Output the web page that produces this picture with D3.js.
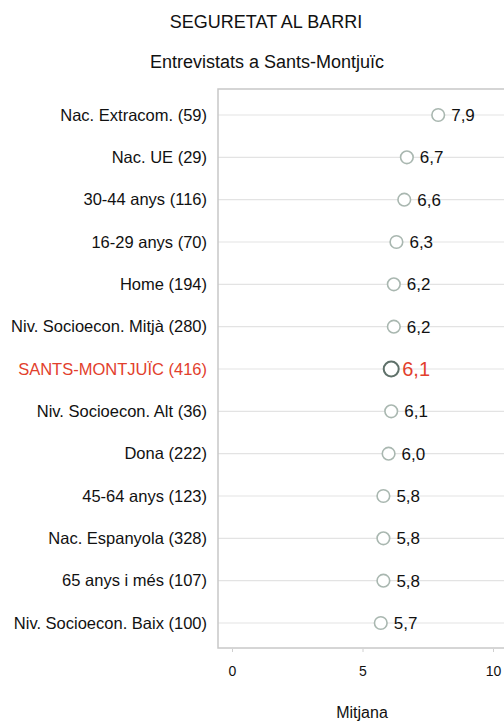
<!DOCTYPE html>
<html lang="ca">
<head>
  <meta charset="UTF-8">
  <title>Seguretat al barri</title>
  <script src="https://d3js.org/d3.v7.min.js"></script>
  <style>
    body { margin: 0; background: #fff; font-family: 'Liberation Sans', Arial, sans-serif; }
    svg { display: block; }
  </style>
</head>
<body>
<div id="chart"></div>
<script>
  // data
  const groups = ["Nac. Extracom. (59)", "Nac. UE (29)", "30-44 anys (116)", "16-29 anys (70)",
    "Home (194)", "Niv. Socioecon. Mitjà (280)", "SANTS-MONTJUÏC (416)", "Niv. Socioecon. Alt (36)",
    "Dona (222)", "45-64 anys (123)", "Nac. Espanyola (328)", "65 anys i més (107)", "Niv. Socioecon. Baix (100)"];
  const means = [7.9, 6.7, 6.6, 6.3, 6.2, 6.2, 6.1, 6.1, 6.0, 5.8, 5.8, 5.8, 5.7];
  const xTicks = [0, 5, 10];
  const highlight = "SANTS-MONTJUÏC (416)";

  const width = 504, height = 721;
  const panel = { left: 218, top: 89, right: 520, bottom: 648 };

  const svg = d3.select("#chart").append("svg")
    .attr("width", width)
    .attr("height", height);

  const x = d3.scaleLinear().domain([0, 10]).range([232, 493]);
  const y = d3.scalePoint().domain(groups).range([115, 623]);

  svg.append("text")
    .attr("x", 266).attr("y", 28)
    .attr("text-anchor", "middle")
    .attr("font-size", 18)
    .attr("fill", "#111")
    .text("SEGURETAT AL BARRI");

  svg.append("text")
    .attr("x", 267).attr("y", 68)
    .attr("text-anchor", "middle")
    .attr("font-size", 18)
    .attr("fill", "#111")
    .text("Entrevistats a Sants-Montjuïc");

  // grid lines
  svg.append("g").selectAll("line")
    .data(groups)
    .join("line")
    .attr("x1", panel.left).attr("x2", panel.right)
    .attr("y1", d => y(d)).attr("y2", d => y(d))
    .attr("stroke", "#e3e3e3")
    .attr("stroke-width", 1.2);

  // panel border
  svg.append("rect")
    .attr("x", panel.left).attr("y", panel.top)
    .attr("width", panel.right - panel.left)
    .attr("height", panel.bottom - panel.top)
    .attr("fill", "none")
    .attr("stroke", "#c8c8c8")
    .attr("stroke-width", 1.5);

  // y labels
  svg.append("g").selectAll("text")
    .data(groups)
    .join("text")
    .attr("x", 207)
    .attr("y", d => y(d))
    .attr("dy", "0.35em")
    .attr("text-anchor", "end")
    .attr("font-size", 16.5)
    .attr("fill", d => d === highlight ? "#e2402c" : "#111")
    .text(d => d);

  // x axis
  const xAxis = svg.append("g")
    .attr("transform", `translate(0,${panel.bottom + 1})`)
    .call(d3.axisBottom(x).tickValues(xTicks).tickSize(3).tickPadding(14));
  xAxis.select(".domain").remove();
  xAxis.selectAll("line").attr("stroke", "#d0d0d0");
  xAxis.selectAll("text")
    .attr("font-family", "'Liberation Sans', Arial, sans-serif")
    .attr("font-size", 14)
    .attr("fill", "#111");

  svg.append("text")
    .attr("x", 362).attr("y", 718)
    .attr("text-anchor", "middle")
    .attr("font-size", 16)
    .attr("fill", "#111")
    .text("Mitjana");

  const data = groups.map((g, i) => ({ group: g, value: means[i] }));

  // points
  svg.append("g").selectAll("circle")
    .data(data)
    .join("circle")
    .attr("cx", d => x(d.value))
    .attr("cy", d => y(d.group))
    .attr("r", d => d.group === highlight ? 7.5 : 6.3)
    .attr("fill", "#fff")
    .attr("stroke", d => d.group === highlight ? "#5f716a" : "#a9b7b0")
    .attr("stroke-width", d => d.group === highlight ? 2 : 1.6);

  // value labels
  svg.append("g").selectAll("text")
    .data(data)
    .join("text")
    .attr("x", d => x(d.value) + (d.group === highlight ? 11 : 13))
    .attr("y", d => y(d.group))
    .attr("dy", "0.36em")
    .attr("font-size", d => d.group === highlight ? 20 : 17)
    .attr("fill", d => d.group === highlight ? "#e2402c" : "#111")
    .text(d => d3.format(".1f")(d.value).replace(".", ","));
</script>
</body>
</html>
